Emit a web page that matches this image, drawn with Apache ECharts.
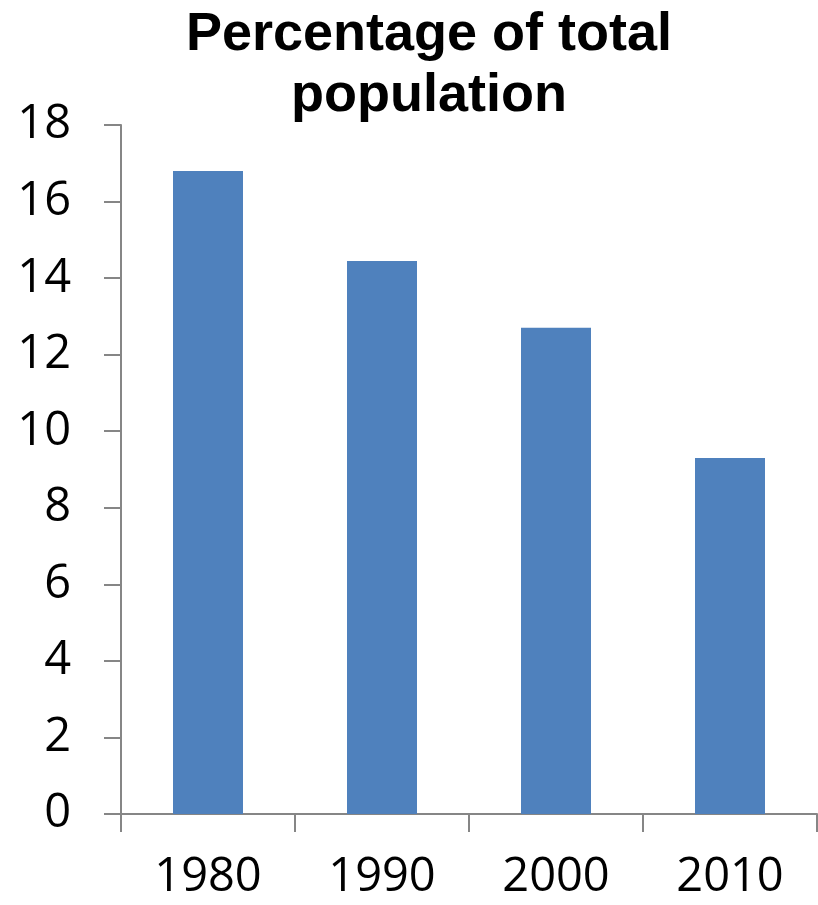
<!DOCTYPE html>
<html>
<head>
<meta charset="utf-8">
<script src="https://cdn.jsdelivr.net/npm/echarts@6/dist/echarts.min.js"></script>
<style>
html,body{margin:0;padding:0;background:#fff;}
#chart{width:818px;height:905px;}
</style>
</head>
<body>
<div id="chart"></div>
<script>
const titleText = "Percentage of total\npopulation";
const categories = ["1980", "1990", "2000", "2010"];
const values = [16.8, 14.45, 12.7, 9.3];
const yMin = 0, yMax = 18, yInterval = 2;

const chart = echarts.init(document.getElementById('chart'), null, {renderer: 'canvas'});
chart.setOption({
  animation: false,
  backgroundColor: '#ffffff',
  title: {
    text: titleText,
    left: 424,
    textAlign: 'center',
    top: 0,
    textStyle: {
      fontFamily: '"Liberation Sans", Arial, sans-serif',
      fontWeight: 'bold',
      fontSize: 54,
      lineHeight: 61,
      color: '#000'
    }
  },
  grid: {left: 121, right: 1, top: 125, bottom: 91, containLabel: false},
  xAxis: {
    type: 'category',
    data: categories,
    axisLine: {show: true, lineStyle: {color: '#868686', width: 2}},
    axisTick: {show: true, length: 18, lineStyle: {color: '#868686', width: 2}},
    axisLabel: {
      margin: 40,
      fontFamily: '"Open Sans", sans-serif',
      fontSize: 47,
      color: '#000'
    }
  },
  yAxis: {
    type: 'value',
    min: yMin, max: yMax, interval: yInterval,
    splitLine: {show: false},
    axisLine: {show: true, lineStyle: {color: '#868686', width: 2}},
    axisTick: {show: true, length: 17, lineStyle: {color: '#868686', width: 2}},
    axisLabel: {
      margin: 50,
      fontFamily: '"Open Sans", sans-serif',
      fontSize: 47,
      color: '#000'
    }
  },
  series: [{
    type: 'bar',
    data: values,
    barWidth: 70,
    itemStyle: {color: '#4F81BD'}
  }]
});
</script>
</body>
</html>
